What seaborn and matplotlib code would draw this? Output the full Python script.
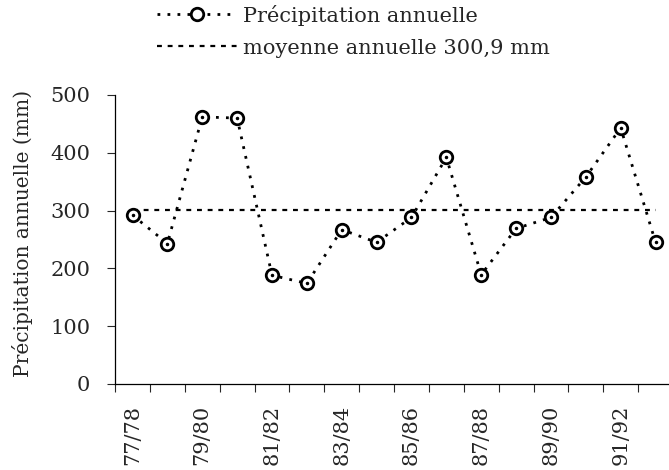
import numpy as np
import pandas as pd
import matplotlib.pyplot as plt
import seaborn as sns

years = ["77/78", "78/79", "79/80", "80/81", "81/82", "82/83", "83/84", "84/85",
         "85/86", "86/87", "87/88", "88/89", "89/90", "90/91", "91/92", "92/93"]
precip = [292, 243, 462, 460, 188, 174, 267, 245,
          288, 392, 189, 269, 288, 358, 443, 245]
mean_value = 300.9

sns.set_theme(style="white")
plt.rcParams["font.family"] = ["DejaVu Serif"]

df = pd.DataFrame({"pos": np.arange(len(years)), "year": years, "precip": precip})
df["mean"] = mean_value

fig = plt.figure(figsize=(6.69, 4.70), dpi=100)
ax = fig.add_axes([0.172, 0.183, 0.834, 0.615])

# mean line
sns.lineplot(data=df, x="pos", y="mean", ax=ax, color="black", linewidth=1.6,
             dashes=False, linestyle=(0, (2.2, 2.6)),
             label="moyenne annuelle 300,9 mm")
# annual precipitation
sns.lineplot(data=df, x="pos", y="precip", ax=ax, color="black", linewidth=2.0,
             linestyle=(0, (1.0, 2.6)), marker="o", markersize=9,
             markerfacecolor="white", markeredgecolor="black", markeredgewidth=2.0,
             label="Précipitation annuelle")
ax.plot(df["pos"], df["precip"], linestyle="none", marker=".", markersize=3, color="black")

ax.set_xlim(-0.5, len(years) - 0.5)
ax.set_ylim(0, 500)
ax.set_yticks(range(0, 501, 100))
ax.tick_params(axis="y", labelsize=15, length=6, width=0.8, direction="out", left=True, pad=12)

ax.set_xticks(np.arange(-0.5, len(years), 1.0))
ax.set_xticklabels([])
ax.set_xticks(df["pos"][::2], minor=True)
ax.set_xticklabels(df["year"][::2], minor=True, rotation=90, fontsize=15)
ax.tick_params(axis="x", which="major", length=6, width=0.8, direction="out", bottom=True)
ax.tick_params(axis="x", which="minor", length=0, pad=15)

ax.set_xlabel("")
ax.set_ylabel("Précipitation annuelle (mm)", fontsize=14.5)
ax.yaxis.set_label_coords(-0.147, 0.52)

sns.despine(ax=ax)
for s in ["left", "bottom"]:
    ax.spines[s].set_color("black")
    ax.spines[s].set_linewidth(0.9)

handles, labels = ax.get_legend_handles_labels()
ax.legend(handles[::-1], labels[::-1], loc="upper left", bbox_to_anchor=(0.207, 1.03),
          bbox_transform=fig.transFigure, frameon=False, fontsize=15,
          handlelength=3.85, handletextpad=0.25, labelspacing=0.62)

fig.savefig("out.png", dpi=100)
